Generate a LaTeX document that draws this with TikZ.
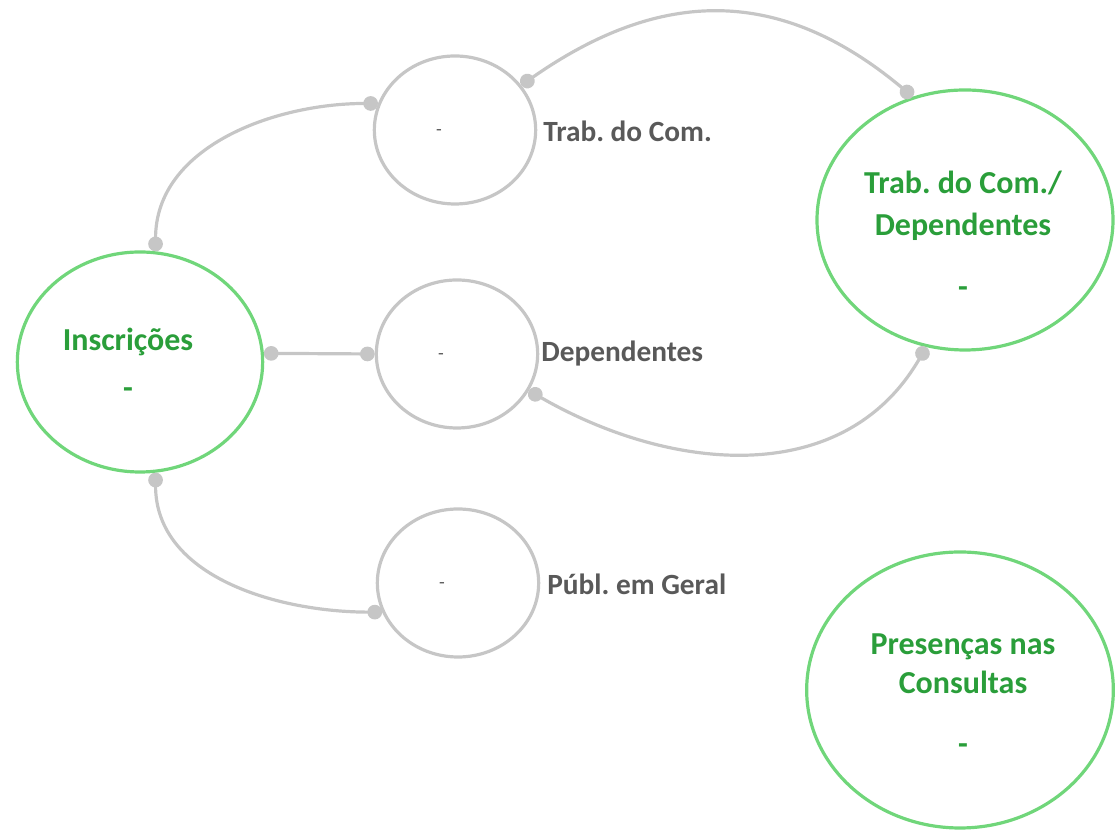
\documentclass[tikz,border=0pt]{standalone}
\usepackage{fontspec}
\setmainfont{Carlito}
\frenchspacing
\usetikzlibrary{shapes.geometric,arrows.meta}
\definecolor{ringgreen}{RGB}{112,214,122}
\definecolor{textgreen}{RGB}{42,158,58}
\definecolor{linkgrey}{RGB}{198,198,198}
\definecolor{labelgrey}{RGB}{89,89,89}
\tikzset{
  hub/.style={ellipse, draw=ringgreen, line width=2.4pt, inner sep=0pt},
  hubtext/.style={text=textgreen, font=\fontsize{24}{28}\selectfont\bfseries,
    align=center, inner sep=0pt},
  sub/.style={ellipse, draw=linkgrey, line width=2.4pt, minimum width=121pt,
    minimum height=111pt, text=labelgrey, font=\fontsize{14}{16}\selectfont,
    text height=8pt, text depth=0pt, inner sep=0pt},
  tag/.style={anchor=west, inner sep=0pt, text=labelgrey,
    font=\fontsize{22}{26}\selectfont\bfseries},
  link/.style={draw=linkgrey, line width=2.4pt,
    {Circle[length=11pt]}-{Circle[length=11pt]}}
}
\begin{document}
\begin{tikzpicture}[x=0.75pt,y=0.75pt]
    \useasboundingbox (0,0) rectangle (1115,831);
    % main circles
    \node [hub, minimum width=184pt, minimum height=165pt] (ins) at (140,469) {};
    \node [hub, minimum width=222pt, minimum height=195pt] (dep) at (965,611) {};
    \node [hub, minimum width=230pt, minimum height=207pt] (pres) at (960,141) {};
    \node [hubtext] (instext) at (128,468) {Inscrições\\[8pt]-};
    \node [hubtext] (deptext) at (963,597) {Trab. do Com./\\[4pt]Dependentes\\[18pt]-};
    \node [hubtext] (prestext) at (963,137) {Presenças nas\\[1pt]Consultas\\[18pt]-};
    % small circles
    \node [sub] (trab) at (455,701) {-\kern24pt};
    \node [sub] (depn) at (457,477) {-\kern24pt};
    \node [sub] (publ) at (458,248) {-\kern24pt};
    \node [tag] (trabl) at (543,700) {Trab. do Com.};
    \node [tag] (depnl) at (541,477) {Dependentes};
    \node [tag] (publl) at (547,247) {Públ. em Geral};
    % links
    \draw [link] (ins.82) to[out=90,in=180] (trab.161);
    \draw [link] (ins.4) -- (depn.west);
    \draw [link] (ins.-82) to[out=-90,in=180] (publ.201);
    \draw [link] (trab.34) to[out=35,in=140,looseness=1.12] (dep.113);
    \draw [link] (depn.-27) to[out=-30,in=-120,looseness=1.05] (dep.253);
\end{tikzpicture}
\end{document}
